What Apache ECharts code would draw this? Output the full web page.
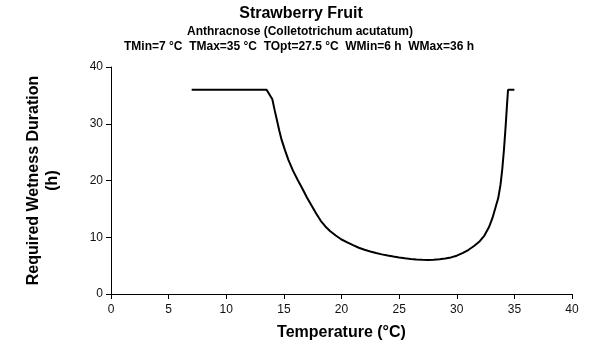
<!DOCTYPE html>
<html>
<head>
<meta charset="utf-8">
<script src="https://cdn.jsdelivr.net/npm/echarts@6/dist/echarts.min.js"></script>
<style>html,body{margin:0;padding:0;background:#fff}#c{width:600px;height:360px}</style>
</head>
<body>
<div id="c"></div>
<script>
var temperature = [7, 13.5, 14, 14.2, 14.4, 14.6, 14.8, 15.1, 15.4, 15.8, 16.2, 16.6, 17, 17.4, 17.8, 18.2, 18.6, 19, 19.5, 20, 20.5, 21, 21.5, 22, 22.5, 23, 23.5, 24, 24.5, 25, 25.5, 26, 26.5, 27, 27.5, 28, 28.5, 29, 29.5, 30, 30.5, 31, 31.5, 32, 32.4, 32.8, 33.1, 33.4, 33.6, 33.8, 33.95, 34.1, 34.25, 34.35, 34.45, 35];
var wetness = [36, 36, 34.3, 32.4, 30.6, 28.8, 27.2, 25.3, 23.6, 21.7, 20.1, 18.6, 17.0, 15.6, 14.2, 12.9, 11.9, 11.1, 10.3, 9.6, 9.1, 8.6, 8.15, 7.8, 7.5, 7.22, 6.98, 6.78, 6.6, 6.43, 6.28, 6.15, 6.07, 6.02, 6.0, 6.04, 6.12, 6.25, 6.45, 6.75, 7.2, 7.75, 8.45, 9.3, 10.3, 11.8, 13.4, 15.5, 16.9, 19.3, 22.0, 25.5, 29.8, 33.0, 36, 36];
var xTicks = [0, 5, 10, 15, 20, 25, 30, 35, 40];
var yTicks = [0, 10, 20, 30, 40];

var points = temperature.map(function (t, i) { return [t, wetness[i]]; });
var font = 'Liberation Sans, Arial, sans-serif';
var chart = echarts.init(document.getElementById('c'), null, {renderer: 'canvas'});
chart.setOption({
  animation: false,
  backgroundColor: '#fff',
  title: [
    {text: 'Strawberry Fruit', left: 296, top: 1, textAlign: 'center',
     textStyle: {fontFamily: font, fontSize: 16, fontWeight: 'bold', color: '#000'}},
    {text: 'Anthracnose (Colletotrichum acutatum)', left: 295, top: 21, textAlign: 'center',
     textStyle: {fontFamily: font, fontSize: 12, fontWeight: 'bold', color: '#000'}},
    {text: 'TMin=7 °C  TMax=35 °C  TOpt=27.5 °C  WMin=6 h  WMax=36 h', left: 294, top: 36, textAlign: 'center',
     textStyle: {fontFamily: font, fontSize: 12, fontWeight: 'bold', color: '#000'}}
  ],
  grid: {left: 111, right: 28, top: 67, bottom: 66, containLabel: false},
  xAxis: {
    type: 'value', min: xTicks[0], max: xTicks[xTicks.length - 1], interval: 5,
    name: 'Temperature (°C)', nameLocation: 'middle', nameGap: 31,
    nameTextStyle: {fontFamily: font, fontSize: 16, fontWeight: 'bold', color: '#000'},
    axisLine: {show: true, onZero: false, lineStyle: {color: '#000', width: 1}},
    axisTick: {show: true, length: 5, lineStyle: {color: '#000'}},
    axisLabel: {fontFamily: font, fontSize: 12, color: '#111', margin: 10},
    splitLine: {show: false}
  },
  yAxis: {
    type: 'value', min: yTicks[0], max: yTicks[yTicks.length - 1], interval: 10,
    name: 'Required Wetness Duration\n(h)', nameLocation: 'middle', nameGap: 49, nameRotate: 90,
    nameTextStyle: {fontFamily: font, fontSize: 16, fontWeight: 'bold', color: '#000', lineHeight: 19},
    axisLine: {show: true, lineStyle: {color: '#000', width: 1}},
    axisTick: {show: true, length: 5, lineStyle: {color: '#000'}},
    axisLabel: {fontFamily: font, fontSize: 12, color: '#111', margin: 8},
    splitLine: {show: false}
  },
  series: [{
    type: 'line', data: points, showSymbol: false, smooth: false,
    lineStyle: {color: '#000', width: 2}
  }]
});
</script>
</body>
</html>
